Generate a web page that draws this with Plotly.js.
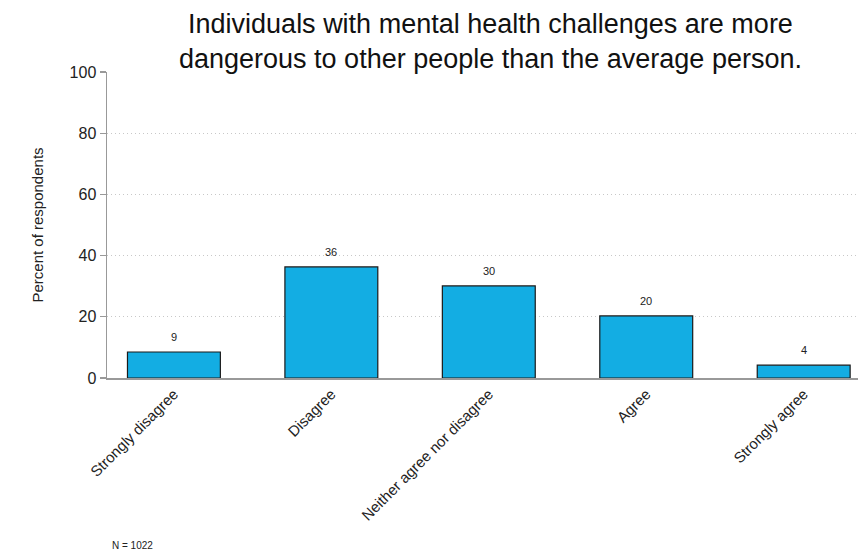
<!DOCTYPE html>
<html>
<head>
<meta charset="utf-8">
<script src="https://cdn.plot.ly/plotly-3.0.1.min.js"></script>
<style>html,body{margin:0;padding:0;background:#fff;}#chart{width:862px;height:550px;}</style>
</head>
<body>
<div id="chart"></div>
<script>
const categories = ["Strongly disagree", "Disagree", "Neither agree nor disagree", "Agree", "Strongly agree"];
const percents = [8.5, 36.3, 30.1, 20.3, 4.2];
const yTicks = [0, 20, 40, 60, 80, 100];
const titleText = "Individuals with mental health challenges are more<br>dangerous to other people than the average person.";
const yTitle = "Percent of respondents";
const noteText = "N = 1022";

const FONT = "Liberation Sans, Arial, Helvetica, sans-serif";

const trace = {
  type: "bar",
  x: categories.map((c, i) => i),
  y: percents,
  width: 0.59,
  marker: {color: "#13ADE3", line: {color: "#1a1a1a", width: 1.2}},
  hoverinfo: "skip"
};

const labelAnns = percents.map((v, i) => ({
  x: i, y: v, xref: "x", yref: "y",
  text: String(Math.round(v)),
  showarrow: false, yanchor: "bottom", yshift: 7,
  font: {family: FONT, size: 11, color: "#222"}
}));

const layout = {
  width: 862, height: 550,
  margin: {l: 107, r: 4, t: 72, b: 172},
  paper_bgcolor: "#fff", plot_bgcolor: "#fff",
  showlegend: false,
  title: {
    text: titleText,
    font: {family: FONT, size: 27, color: "#111"},
    x: 0.569, xref: "container", xanchor: "center",
    y: 0.94, yref: "container", yanchor: "top"
  },
  xaxis: {
    range: [-0.425, 4.345],
    tickmode: "array",
    tickvals: categories.map((c, i) => i),
    ticktext: categories,
    tickangle: -45,
    tickfont: {family: FONT, size: 15, color: "#222"},
    showgrid: false, zeroline: false,
    showline: true, linecolor: "#999", linewidth: 1.5,
    ticks: "", fixedrange: true
  },
  yaxis: {
    range: [0, 100],
    tickmode: "array", tickvals: yTicks,
    tickfont: {family: FONT, size: 16, color: "#222"},
    ticks: "outside", ticklen: 6, tickcolor: "#999", tickwidth: 1.2,
    showline: true, linecolor: "#999", linewidth: 1.5,
    showgrid: true, gridcolor: "#c8c8c8", griddash: "1px,3px", gridwidth: 1,
    zeroline: false,
    title: {text: yTitle, font: {family: FONT, size: 15, color: "#222"}, standoff: 22},
    fixedrange: true
  },
  annotations: labelAnns.concat([{
    text: noteText, xref: "paper", yref: "paper",
    x: 0.004, y: -0.548, xanchor: "left", yanchor: "middle",
    showarrow: false, font: {family: FONT, size: 10, color: "#222"}
  }])
};

Plotly.newPlot("chart", [trace], layout, {displayModeBar: false, staticPlot: true});
</script>
</body>
</html>
